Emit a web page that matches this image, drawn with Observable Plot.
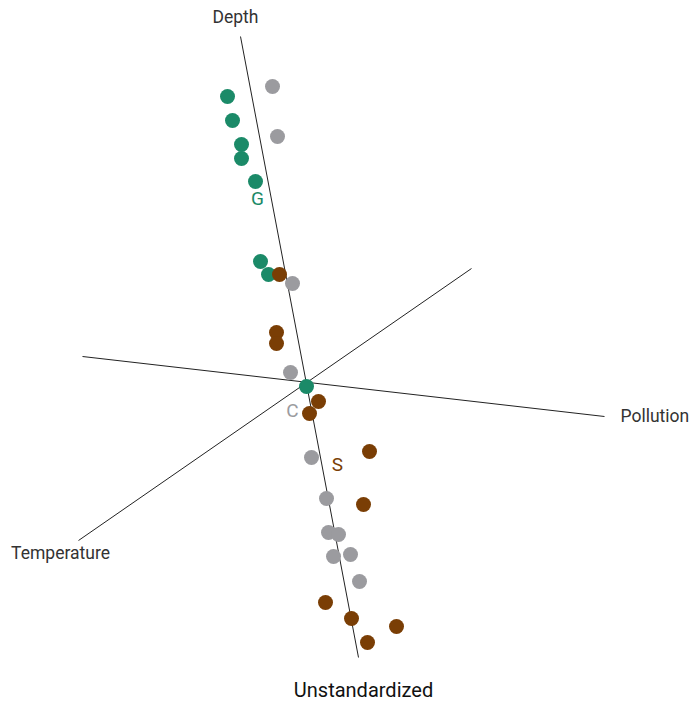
<!DOCTYPE html>
<html>
<head>
<meta charset="utf-8">
<script src="https://cdn.jsdelivr.net/npm/d3@7"></script>
<script src="https://cdn.jsdelivr.net/npm/@observablehq/plot@0.6"></script>
<style>
  body { margin: 0; background: #fff; font-family: Roboto, "Liberation Sans", sans-serif; }
  #caption { width: 691px; text-align: center; padding-left: 36px; box-sizing: border-box; font-size: 20px; color: #111; line-height: 24px; margin-top: 8px; }
</style>
</head>
<body>
<div id="chart"></div>
<div id="caption">Unstandardized</div>
<script>
// Projected coordinates (origin at the centre of the biplot, y pointing up)
const axisNames = ["Depth", "Pollution", "Temperature"];
const axisStartX = [-65, -223, -227];
const axisStartY = [350, 30, -154];
const axisEndX = [53, 299, 166];
const axisEndY = [-271, -30, 118];
const axisLabelX = [-70, 315, -245];
const axisLabelY = [369, -30, -167];

const groups = ["G", "S", "C"];
const groupLabelX = [-48, 32, -13];
const groupLabelY = [188, -78, -24];

const gX = [-78, -73, -64, -64, -50, -45, -37, 1];
const gY = [290, 266, 242, 228, 205, 125, 112, 0];

const sX = [-26, -29, -29, 13, 4, 64, 58, 20, 46, 91, 62];
const sY = [112, 54, 43, -15, -27, -65, -118, -216, -232, -240, -256];

const cX = [-33, -28, -13, -15, 6, 21, 23, 33, 28, 45, 54];
const cY = [300, 250, 103, 14, -71, -112, -146, -148, -170, -168, -195];

const colors = {G: "#1b8a68", S: "#7a3e05", C: "#9b9b9f"};

const axes = axisNames.map((name, i) => ({
  name, x1: axisStartX[i], y1: axisStartY[i], x2: axisEndX[i], y2: axisEndY[i],
  lx: axisLabelX[i], ly: axisLabelY[i]
}));
const points = [
  ...gX.map((x, i) => ({group: "G", x, y: gY[i]})),
  ...sX.map((x, i) => ({group: "S", x, y: sY[i]})),
  ...cX.map((x, i) => ({group: "C", x, y: cY[i]}))
];
const glabels = groups.map((g, i) => ({group: g, x: groupLabelX[i], y: groupLabelY[i]}));

const plot = Plot.plot({
  width: 691,
  height: 670,
  margin: 0,
  x: {domain: [-305, 386], range: [0, 691], axis: null},
  y: {domain: [-284, 386], range: [670, 0], axis: null},
  style: {fontFamily: "Roboto, 'Liberation Sans', sans-serif", background: "#fff"},
  marks: [
    Plot.link(axes, {x1: "x1", y1: "y1", x2: "x2", y2: "y2", stroke: "#222", strokeWidth: 1}),
    Plot.text(axes.filter(d => d.name === "Depth"), {x: "lx", y: "ly", text: "name", fontSize: 17.5, fill: "#333", textAnchor: "middle"}),
    Plot.text(axes.filter(d => d.name === "Pollution"), {x: "lx", y: "ly", text: "name", fontSize: 17.5, fill: "#333", textAnchor: "start"}),
    Plot.text(axes.filter(d => d.name === "Temperature"), {x: "lx", y: "ly", text: "name", fontSize: 17.5, fill: "#333", textAnchor: "middle"}),
    Plot.dot(points, {x: "x", y: "y", r: 7.5, fill: d => colors[d.group], stroke: "none"}),
    Plot.text(glabels, {x: "x", y: "y", text: "group", fontSize: 19, fill: d => colors[d.group], textAnchor: "middle"})
  ]
});
document.getElementById("chart").appendChild(plot);
</script>
</body>
</html>
